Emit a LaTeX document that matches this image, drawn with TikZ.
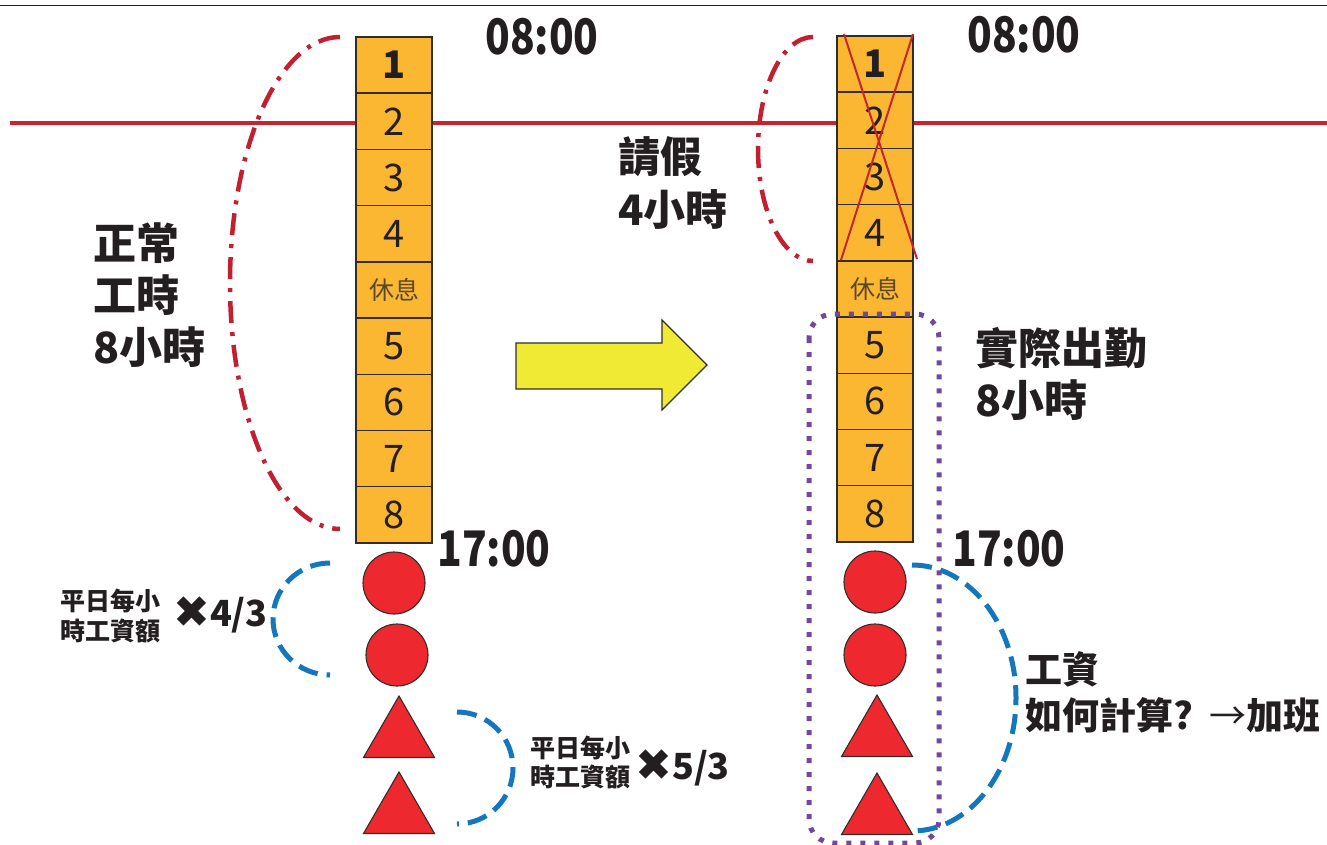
\documentclass[tikz,border=0pt]{standalone}
\usepackage{fontspec}
\setmainfont{Noto Sans CJK TC}
\newfontfamily\symfont{DejaVu Sans}
\usetikzlibrary{shapes.geometric}
\definecolor{txt}{RGB}{35,31,32}
\definecolor{cellfill}{RGB}{251,183,49}
\definecolor{cellline}{RGB}{50,45,40}
\definecolor{redline}{RGB}{196,38,48}
\definecolor{dotred}{RGB}{192,32,48}
\definecolor{bluedash}{RGB}{20,118,190}
\definecolor{purpdot}{RGB}{112,72,160}
\definecolor{shapered}{RGB}{237,41,47}
\definecolor{arrowyellow}{RGB}{240,234,52}
\definecolor{resttext}{RGB}{90,72,45}
\newcommand\myfs[2]{\fontsize{#1pt}{#2pt}\selectfont}
\newcommand\heavyx{{\symfont\fontsize{44pt}{44pt}\selectfont\raisebox{-1pt}{✖}}}
\begin{document}
\begin{tikzpicture}[x=1pt,y=-1pt,
  cellbox/.style={draw=cellline, line width=1.4pt, fill=cellfill, minimum width=76pt, minimum height=56.2pt, inner sep=0pt, text=txt, font=\myfs{38}{38}},
  restbox/.style={cellbox, font=\myfs{25}{25}, text=resttext},
  dotshape/.style={circle, draw=cellline, line width=1.1pt, fill=shapered, minimum size=62pt, inner sep=0pt},
  trishape/.style={regular polygon, regular polygon sides=3, draw=cellline, line width=1.1pt, fill=shapered, minimum size=82pt, inner sep=0pt},
  timelabel/.style={text=txt, font=\myfs{49}{49}\bfseries, inner sep=0pt, xscale=0.83, transform shape},
  biglabel/.style={text=txt, font=\myfs{43}{52}\bfseries, align=left, inner sep=0pt, anchor=west},
  smalllabel/.style={text=txt, font=\myfs{25}{30}\bfseries, align=left, inner sep=0pt, anchor=west},
  factorlabel/.style={text=txt, font=\myfs{36}{36}\bfseries, inner sep=0pt, anchor=west},
  dashdotred/.style={draw=dotred, line width=4.5pt, dash pattern=on 22pt off 9pt on 4pt off 9pt},
  bluebracket/.style={draw=bluedash, line width=5pt, dash pattern=on 20pt off 9pt},
  purplebox/.style={draw=purpdot, line width=5pt, dash pattern=on 5pt off 9pt, rounded corners=24pt},
  crossline/.style={draw=redline, line width=2pt},
  yellowarrow/.style={draw=cellline, line width=1.2pt, fill=arrowyellow},
]
\useasboundingbox (0,0) rectangle (1327,845);
% top rule
\coordinate (tl) at (0,5.5);
\coordinate (tr) at (1327,5.5);
\draw[txt, line width=1.8pt] (tl) -- (tr);
% red 8:00 line
\coordinate (hl1) at (10,123);
\coordinate (hl2) at (1327,123);
\draw[redline, line width=3.5pt] (hl1) -- (hl2);

% dash-dot brackets
\coordinate (ddL) at (340,37);
\draw[dashdotred] (ddL) arc[start angle=90, end angle=270, x radius=110pt, y radius=246pt];
\coordinate (ddR) at (813,37);
\draw[dashdotred] (ddR) arc[start angle=90, end angle=270, x radius=55pt, y radius=112pt];

% left column
\node[cellbox] (L1) at (394,65.1) {\bfseries 1};
\node[cellbox] (L2) at (394,121.3) {2};
\node[cellbox] (L3) at (394,177.5) {3};
\node[cellbox] (L4) at (394,233.7) {4};
\node[restbox] (L5) at (394,289.9) {休息};
\node[cellbox] (L6) at (394,346.1) {5};
\node[cellbox] (L7) at (394,402.3) {6};
\node[cellbox] (L8) at (394,458.5) {7};
\node[cellbox] (L9) at (394,514.7) {8};

% right column
\node[cellbox] (R1) at (875,64.1) {\bfseries 1};
\node[cellbox] (R2) at (875,120.3) {2};
\node[cellbox] (R3) at (875,176.5) {3};
\node[cellbox] (R4) at (875,232.7) {4};
\node[restbox] (R5) at (875,288.9) {休息};
\node[cellbox] (R6) at (875,345.1) {5};
\node[cellbox] (R7) at (875,401.3) {6};
\node[cellbox] (R8) at (875,457.5) {7};
\node[cellbox] (R9) at (875,513.7) {8};

% cross over hours 1-4
\coordinate (xa1) at (844,34);
\coordinate (xa2) at (917,259);
\coordinate (xb1) at (913,34);
\coordinate (xb2) at (841,260);
\draw[crossline] (xa1) -- (xa2);
\draw[crossline] (xb1) -- (xb2);

% overtime shapes left
\node[dotshape] (LC1) at (394,583) {};
\node[dotshape] (LC2) at (397,655) {};
\node[trishape] (LT1) at (399,737) {};
\node[trishape] (LT2) at (399,813) {};

% overtime shapes right
\node[dotshape] (RC1) at (875,582) {};
\node[dotshape] (RC2) at (875,655) {};
\node[trishape] (RT1) at (877,736) {};
\node[trishape] (RT2) at (877,814) {};

% blue brackets
\coordinate (bl1) at (330,563);
\draw[bluebracket] (bl1) arc[start angle=90, end angle=270, x radius=57pt, y radius=56pt];
\coordinate (bl2) at (457,712);
\draw[bluebracket] (bl2) arc[start angle=90, end angle=-90, x radius=56pt, y radius=56pt];
\coordinate (br1) at (912,565);
\draw[bluebracket] (br1) arc[start angle=90, end angle=-90, x radius=104pt, y radius=133pt];

% purple dotted box
\coordinate (pb1) at (809,314);
\coordinate (pb2) at (939,843);
\draw[purplebox] (pb1) rectangle (pb2);

% yellow arrow
\draw[yellowarrow] (516,343) -- (662,343) -- (662,320) -- (707,365) -- (662,410) -- (662,389) -- (516,389) -- cycle;

% time labels
\node[timelabel] (t08L) at (542,37) {08:00};
\node[timelabel] (t08R) at (1024,35) {08:00};
\node[timelabel] (t17L) at (494,549) {17:00};
\node[timelabel] (t17R) at (1009,549) {17:00};

% text labels
\node[biglabel] (normal) at (93,295) {正常\\工時\\8小時};
\node[biglabel, font=\myfs{42}{53}\bfseries] (leave) at (618,183) {請假\\4小時};
\node[biglabel] (actual) at (975,374) {實際出勤\\8小時};
\node[biglabel, font=\myfs{37}{46}\bfseries] (wage) at (1025,692) {工資\\如何計算?\hspace{16pt}{\mdseries →}加班};
\node[smalllabel] (rate1) at (60,616) {平日每小\\時工資額};
\node[factorlabel] (x43) at (173,615) {\heavyx4/3};
\node[smalllabel, font=\myfs{25}{29}\bfseries] (rate2) at (530,762) {平日每小\\時工資額};
\node[factorlabel] (x53) at (635,768) {\heavyx5/3};
\end{tikzpicture}
\end{document}
